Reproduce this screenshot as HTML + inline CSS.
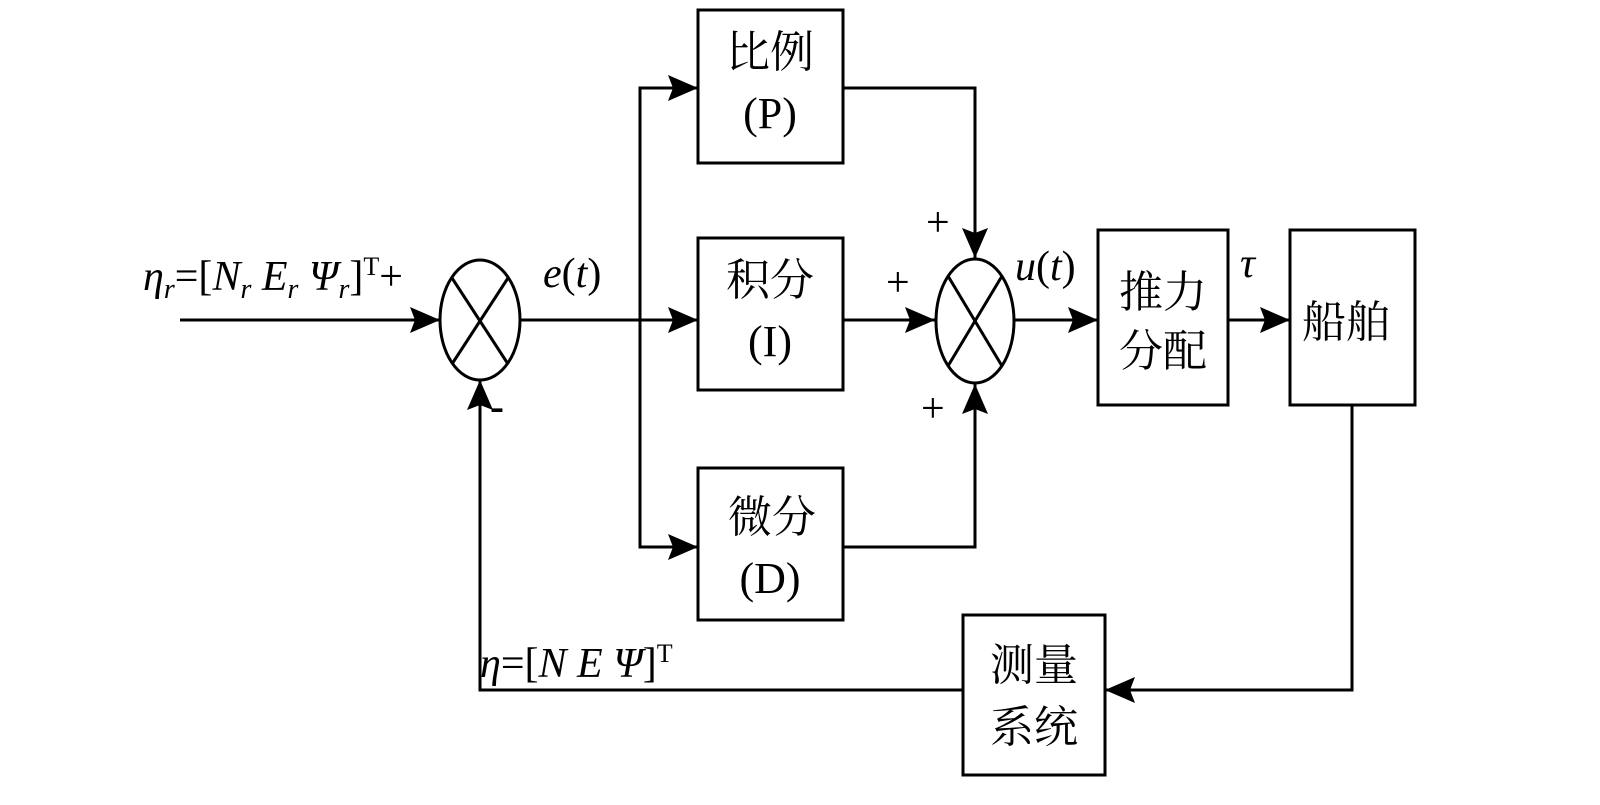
<!DOCTYPE html>
<html><head><meta charset="utf-8"><style>body{margin:0;background:#fff}</style></head><body>
<svg width="1600" height="800" viewBox="0 0 1600 800" xmlns="http://www.w3.org/2000/svg">
<defs>
<marker id="b" markerWidth="30" markerHeight="26" refX="30" refY="13" orient="auto" markerUnits="userSpaceOnUse"><path d="M0,0 L30,13 L0,26 L5,13 z" fill="#000"/></marker></defs>
<g stroke="#000" stroke-width="3" fill="none">
<line x1="180" y1="320" x2="440" y2="320" marker-end="url(#b)"/>
<ellipse cx="480" cy="320" rx="40" ry="60"/>
<line x1="452" y1="278" x2="508" y2="364"/><line x1="508" y1="278" x2="452" y2="364"/>
<line x1="520" y1="320" x2="698" y2="320" marker-end="url(#b)"/>
<polyline points="698,88 640,88 640,547 698,547"/>
<line x1="640" y1="88" x2="698" y2="88" marker-end="url(#b)"/>
<line x1="640" y1="547" x2="698" y2="547" marker-end="url(#b)"/>
<rect x="698" y="10" width="145" height="153"/>
<rect x="698" y="238" width="145" height="152"/>
<rect x="698" y="468" width="145" height="152"/>
<polyline points="843,88 975,88 975,258" marker-end="url(#b)"/>
<polyline points="843,547 975,547 975,384" marker-end="url(#b)"/>
<line x1="843" y1="320" x2="935" y2="320" marker-end="url(#b)"/>
<ellipse cx="975" cy="321" rx="39" ry="62"/>
<line x1="948" y1="276" x2="1002" y2="366"/><line x1="1002" y1="276" x2="948" y2="366"/>
<line x1="1014" y1="320" x2="1098" y2="320" marker-end="url(#b)"/>
<rect x="1098" y="230" width="130" height="175"/>
<line x1="1228" y1="320" x2="1290" y2="320" marker-end="url(#b)"/>
<rect x="1290" y="230" width="125" height="175"/>
<polyline points="1352,405 1352,690 1105,690" marker-end="url(#b)"/>
<rect x="963" y="615" width="142" height="160"/>
<polyline points="963,690 480,690 480,380" marker-end="url(#b)"/>
</g>
<g font-family="Liberation Serif, 'Noto Serif CJK SC', serif" font-size="44" fill="#000" text-anchor="middle">
<text x="770" y="67">比例</text><text x="770" y="128">(P)</text>
<text x="770" y="295">积分</text><text x="770" y="356">(I)</text>
<text x="772" y="532">微分</text><text x="770" y="593">(D)</text>
<text x="1163" y="307">推力</text><text x="1163" y="366">分配</text>
<text x="1346" y="337">船舶</text>
<text x="1034" y="680">测量</text><text x="1034" y="742">系统</text>
</g>
<g font-family="Liberation Serif, serif" font-size="42" fill="#000">
<text x="143" y="290"><tspan font-style="italic">η</tspan><tspan font-style="italic" font-size="28" dy="8">r</tspan><tspan dy="-8">=[</tspan><tspan font-style="italic">N</tspan><tspan font-style="italic" font-size="28" dy="8">r</tspan><tspan dy="-8" font-style="italic"> E</tspan><tspan font-style="italic" font-size="28" dy="8">r</tspan><tspan dy="-8" font-style="italic"> Ψ</tspan><tspan font-style="italic" font-size="28" dy="8">r</tspan><tspan dy="-8">]</tspan><tspan font-size="26" dy="-15">T</tspan><tspan dy="15">+</tspan></text>
<text x="543" y="287"><tspan font-style="italic">e</tspan>(<tspan font-style="italic">t</tspan>)</text>
<text x="1015" y="280"><tspan font-style="italic">u</tspan>(<tspan font-style="italic">t</tspan>)</text>
<text x="1240" y="277" font-style="italic">τ</text>
<text x="926" y="236">+</text><text x="886" y="296">+</text><text x="921" y="422">+</text>
<text x="490" y="420" font-weight="bold">-</text>
<text x="480" y="677"><tspan font-style="italic">η</tspan>=[<tspan font-style="italic">N E  Ψ</tspan>]<tspan font-size="26" dy="-15">T</tspan></text>
</g>
</svg>
</body></html>
